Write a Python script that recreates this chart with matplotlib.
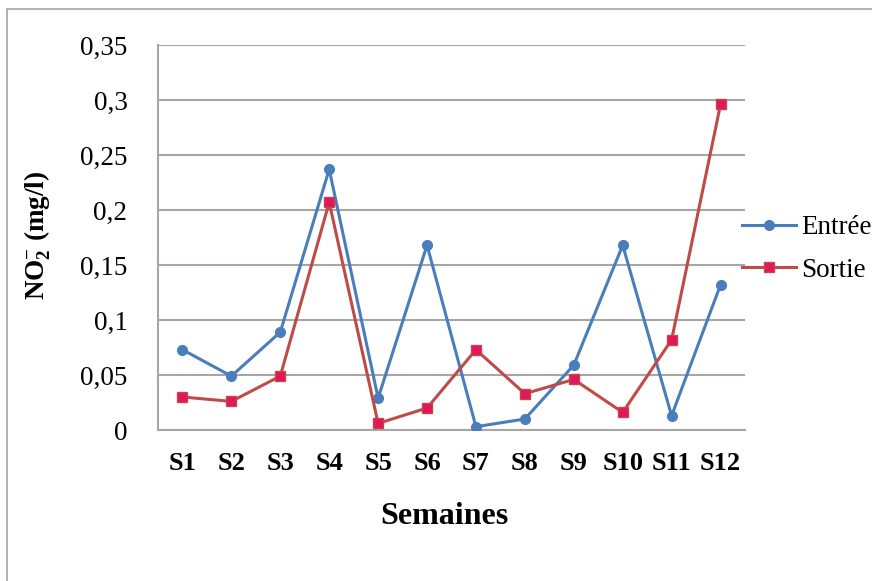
import matplotlib
matplotlib.use("Agg")
import matplotlib.pyplot as plt
from matplotlib.patches import Rectangle

# weekly NO2- values (mg/l)
semaines = ["S1", "S2", "S3", "S4", "S5", "S6", "S7", "S8", "S9", "S10", "S11", "S12"]
entree = [0.073, 0.049, 0.089, 0.237, 0.029, 0.168, 0.003, 0.010, 0.059, 0.168, 0.013, 0.132]
sortie = [0.030, 0.026, 0.049, 0.207, 0.006, 0.020, 0.073, 0.033, 0.046, 0.016, 0.082, 0.296]
y_ticks = [0, 0.05, 0.1, 0.15, 0.2, 0.25, 0.3, 0.35]
y_labels = ["0", "0,05", "0,1", "0,15", "0,2", "0,25", "0,3", "0,35"]

plt.rcParams["font.family"] = ["Liberation Serif", "DejaVu Serif"]
plt.rcParams["mathtext.fontset"] = "custom"
plt.rcParams["mathtext.rm"] = "Liberation Serif:bold"
plt.rcParams["mathtext.it"] = "Liberation Serif:bold"
plt.rcParams["mathtext.bf"] = "Liberation Serif:bold"

W, H = 872, 581
fig = plt.figure(figsize=(W / 100, H / 100), dpi=100)
fig.patch.set_facecolor("white")

# outer chart frame (cropped on the right and bottom)
fig.patches.append(Rectangle((7 / W, -0.1), 1.2, 1 - 9 / H + 0.1,
                             transform=fig.transFigure, fill=False,
                             edgecolor="#a6a6a6", linewidth=1.2))

ax = fig.add_axes([158 / W, 1 - 430 / H, (745 - 158) / W, (430 - 45) / H])

grid_col = "#a6a6a6"
x = list(range(len(semaines)))
ax.plot(x, entree, color="#4a7ebb", linewidth=2.2, marker="o", markersize=7,
        markerfacecolor="#4a7ebb", markeredgecolor="#4a7ebb", label="Entrée",
        zorder=3)
ax.plot(x, sortie, color="#be4b48", linewidth=2.2, marker="s", markersize=6.5,
        markerfacecolor="#e3165b", markeredgecolor="#be4b48", markeredgewidth=1,
        label="Sortie", zorder=3)

ax.set_xlim(-0.5, len(semaines) - 0.5)
ax.set_ylim(0, 0.35)
ax.set_yticks(y_ticks)
ax.set_yticklabels(y_labels)
ax.set_xticks(x)
ax.set_xticklabels(semaines, fontweight="bold")
ax.tick_params(axis="y", length=0, pad=22, labelsize=19.5, colors="black")
ax.tick_params(axis="x", length=0, pad=16, labelsize=19, colors="black")

ax.grid(axis="y", color=grid_col, linewidth=1.5, zorder=0)
ax.set_axisbelow(True)
for s in ["top", "right"]:
    ax.spines[s].set_visible(False)
ax.spines["left"].set_color(grid_col)
ax.spines["left"].set_linewidth(1.5)
ax.spines["bottom"].set_color(grid_col)
ax.spines["bottom"].set_linewidth(1.5)

fig.text(444 / W, 1 - 517 / H, "Semaines", ha="center", va="center",
         fontsize=23, fontweight="bold")
fig.text(38 / W, 1 - 235 / H, r"NO$_{2}^{-}$ (mg/l)", ha="center", va="center",
         rotation=90, fontsize=19.5, fontweight="bold")

leg = ax.legend(loc="center left", bbox_to_anchor=(742 / W, 1 - 249 / H),
                bbox_transform=fig.transFigure, frameon=False, fontsize=19.5,
                handlelength=2.0, handletextpad=0.2, borderpad=0,
                borderaxespad=0, labelspacing=0.65)

fig.savefig("out.png", dpi=100)
